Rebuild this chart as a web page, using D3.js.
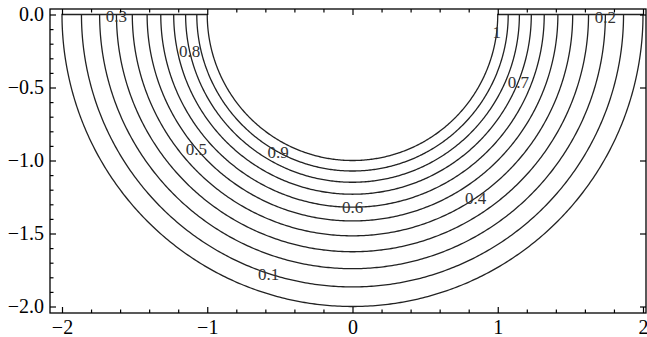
<!DOCTYPE html>
<html>
<head>
<meta charset="utf-8">
<script src="https://cdn.jsdelivr.net/npm/d3@7"></script>
<style>
  body { margin: 0; background: #fff; }
  svg text { font-family: "Liberation Serif", "Times New Roman", Tinos, serif; }
</style>
</head>
<body>
<div id="main"></div>
<script>
// contour levels and the radius where each one sits
var levels = [0, 0.1, 0.2, 0.3, 0.4, 0.5, 0.6, 0.7, 0.8, 0.9, 1];
var radii = [2.0, 1.866, 1.741, 1.625, 1.516, 1.414, 1.32, 1.231, 1.149, 1.072, 1.0];
// angle (degrees) along each contour where its label sits, null = no label
var labelAngles = [null, -108, -0.5, -179.6, -56, -139.5, -90, -22, -167.5, -118.5, -6.8];
var labelText = ["", "0.1", "0.2", "0.3", "0.4", "0.5", "0.6", "0.7", "0.8", "0.9", "1"];

var xMajor = [-2, -1, 0, 1, 2];
var xMajorLabels = ["\u22122", "\u22121", "0", "1", "2"];
var xMinor = [-1.8, -1.6, -1.4, -1.2, -0.8, -0.6, -0.4, -0.2, 0.2, 0.4, 0.6, 0.8, 1.2, 1.4, 1.6, 1.8];
var yMajor = [0, -0.5, -1, -1.5, -2];
var yMajorLabels = ["0.0", "\u22120.5", "\u22121.0", "\u22121.5", "\u22122.0"];
var yMinor = [-0.1, -0.2, -0.3, -0.4, -0.6, -0.7, -0.8, -0.9, -1.1, -1.2, -1.3, -1.4, -1.6, -1.7, -1.8, -1.9];

var W = 647, H = 337;
var frame = { left: 50, right: 646, top: 9, bottom: 313 };
var serif = "'Liberation Serif', 'Times New Roman', Tinos, serif";

var x = d3.scaleLinear().domain([-2, 2]).range([62, 643]);
var y = d3.scaleLinear().domain([0, -2]).range([14.5, 306.5]);

var svg = d3.select("#main").append("svg")
  .attr("width", W).attr("height", H);

var line = d3.line().x(function(d) { return x(d[0]); }).y(function(d) { return y(d[1]); });

function semi(r) {
  return d3.range(0, 361).map(function(i) {
    var a = Math.PI + i / 360 * Math.PI;
    return [r * Math.cos(a), r * Math.sin(a)];
  });
}

var g = svg.append("g");

// region boundary: outer arc, base segments, inner arc
var outer = semi(radii[0]);
var inner = semi(radii[radii.length - 1]).reverse();
g.append("path")
  .attr("d", line(outer.concat(inner)) + "Z")
  .attr("fill", "none")
  .attr("stroke", "#222")
  .attr("stroke-width", 1.3);

levels.forEach(function(v, i) {
  if (i === 0 || i === levels.length - 1) return;
  g.append("path")
    .attr("d", line(semi(radii[i])))
    .attr("fill", "none")
    .attr("stroke", "#222")
    .attr("stroke-width", 1.3);
});

// contour labels
levels.forEach(function(v, i) {
  if (labelAngles[i] === null) return;
  var a = labelAngles[i] * Math.PI / 180;
  g.append("text")
    .attr("x", x(radii[i] * Math.cos(a)))
    .attr("y", y(radii[i] * Math.sin(a)))
    .attr("dy", "0.35em")
    .attr("text-anchor", "middle")
    .style("font-family", serif)
    .style("font-size", "17px")
    .attr("fill", "#333")
    .text(labelText[i]);
});

// frame
svg.append("rect")
  .attr("x", frame.left).attr("y", frame.top)
  .attr("width", frame.right - frame.left)
  .attr("height", frame.bottom - frame.top)
  .attr("fill", "none")
  .attr("stroke", "#000")
  .attr("stroke-width", 1.3);

function styleAxis(sel) {
  sel.attr("font-family", null).attr("font-size", null);
  sel.select(".domain").remove();
  sel.selectAll("line").attr("stroke", "#000").attr("stroke-width", 1.2);
  sel.selectAll("text").attr("fill", "#000")
    .style("font-size", "20px")
    .style("font-family", serif);
}

// bottom
svg.append("g").attr("transform", "translate(0," + frame.bottom + ")")
  .call(d3.axisBottom(x).tickValues(xMajor).tickSizeInner(-6).tickSizeOuter(0).tickPadding(7)
    .tickFormat(function(d, i) { return xMajorLabels[i]; }))
  .call(styleAxis);
svg.append("g").attr("transform", "translate(0," + frame.bottom + ")")
  .call(d3.axisBottom(x).tickValues(xMinor).tickSizeInner(-3.5).tickSizeOuter(0).tickFormat(""))
  .call(styleAxis);
// top
svg.append("g").attr("transform", "translate(0," + frame.top + ")")
  .call(d3.axisTop(x).tickValues(xMajor).tickSizeInner(-6).tickSizeOuter(0).tickFormat(""))
  .call(styleAxis);
svg.append("g").attr("transform", "translate(0," + frame.top + ")")
  .call(d3.axisTop(x).tickValues(xMinor).tickSizeInner(-3.5).tickSizeOuter(0).tickFormat(""))
  .call(styleAxis);
// left
svg.append("g").attr("transform", "translate(" + frame.left + ",0)")
  .call(d3.axisLeft(y).tickValues(yMajor).tickSizeInner(-6).tickSizeOuter(0).tickPadding(6)
    .tickFormat(function(d, i) { return yMajorLabels[i]; }))
  .call(styleAxis);
svg.append("g").attr("transform", "translate(" + frame.left + ",0)")
  .call(d3.axisLeft(y).tickValues(yMinor).tickSizeInner(-3.5).tickSizeOuter(0).tickFormat(""))
  .call(styleAxis);
// right
svg.append("g").attr("transform", "translate(" + frame.right + ",0)")
  .call(d3.axisRight(y).tickValues(yMajor).tickSizeInner(-6).tickSizeOuter(0).tickFormat(""))
  .call(styleAxis);
</script>
</body>
</html>
